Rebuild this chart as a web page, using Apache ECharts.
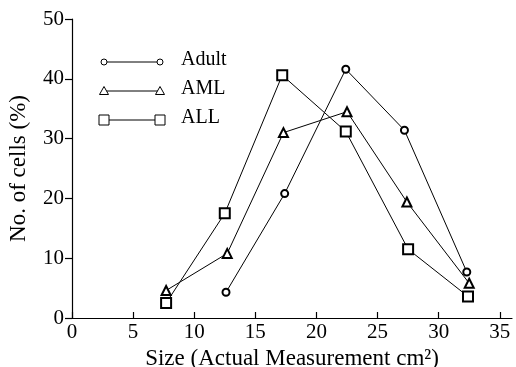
<!DOCTYPE html>
<html><head><meta charset="utf-8">
<script src="https://cdn.jsdelivr.net/npm/echarts@6/dist/echarts.min.js"></script>
<style>html,body{margin:0;padding:0;background:#fff}#c{width:516px;height:367px}</style>
</head><body><div id="c"></div>
<script>
const xTicks = [0, 5, 10, 15, 20, 25, 30, 35];
const yTicks = [0, 10, 20, 30, 40, 50];
const adultX = [12.6, 17.4, 22.4, 27.2, 32.3];
const adultY = [4.3, 20.8, 41.6, 31.4, 7.7];
const amlX = [7.7, 12.7, 17.3, 22.5, 27.4, 32.5];
const amlY = [4.6, 10.8, 31.0, 34.5, 19.4, 5.8];
const allX = [7.7, 12.5, 17.2, 22.4, 27.5, 32.4];
const allY = [2.5, 17.5, 40.6, 31.2, 11.5, 3.6];
const seriesNames = ['Adult', 'AML', 'ALL'];

const pair = (xs, ys) => xs.map((x, i) => [x, ys[i]]);
const FONT = '"Liberation Serif", "DejaVu Serif", serif';
const chart = echarts.init(document.getElementById('c'), null, {renderer: 'canvas'});

function mkSeries(name, data, symbol, size) {
  return {
    name, type: 'line', data, symbol, symbolSize: size,
    showSymbol: true, animation: false,
    lineStyle: {color: '#000', width: 1},
    itemStyle: {color: '#000', borderColor: '#000', borderWidth: 1},
    emphasis: {disabled: true},
    z: 3
  };
}

const legendRows = [
  {y: 62, shape: 'circle'},
  {y: 91, shape: 'triangle'},
  {y: 120, shape: 'rect'}
];
const lg = [];
legendRows.forEach((r, i) => {
  lg.push({type: 'line', shape: {x1: 104, y1: r.y, x2: 160, y2: r.y}, style: {stroke: '#000', lineWidth: 1}, z: 10});
  [104, 160].forEach(cx => {
    if (r.shape === 'circle') lg.push({type: 'circle', shape: {cx, cy: r.y, r: 3}, style: {fill: '#fff', stroke: '#000', lineWidth: 1}, z: 11});
    else if (r.shape === 'triangle') lg.push({type: 'polygon', shape: {points: [[cx, r.y - 4.5], [cx + 4.5, r.y + 3.5], [cx - 4.5, r.y + 3.5]]}, style: {fill: '#fff', stroke: '#000', lineWidth: 1}, z: 11});
    else lg.push({type: 'rect', shape: {x: cx - 5, y: r.y - 5, width: 10, height: 10}, style: {fill: '#fff', stroke: '#000', lineWidth: 1}, z: 11});
  });
  lg.push({type: 'text', left: 181, top: r.y - 12, style: {text: seriesNames[i], font: '20px ' + FONT, fill: '#000'}, z: 11});
});

chart.setOption({
  animation: false,
  backgroundColor: '#fff',
  grid: {left: 72, right: 4, top: 19, bottom: 49, containLabel: false, outerBoundsMode: 'none'},
  xAxis: {
    type: 'value', min: 0, max: 36, interval: 5,
    name: 'Size (Actual Measurement cm²)', nameLocation: 'middle', nameGap: 27,
    nameTextStyle: {fontFamily: FONT, fontSize: 23, color: '#000'},
    axisLine: {onZero: false, lineStyle: {color: '#000', width: 1.2}},
    axisTick: {inside: true, length: 6, lineStyle: {color: '#000', width: 1.2}, customValues: xTicks},
    axisLabel: {fontFamily: FONT, fontSize: 21, color: '#000', margin: 4, customValues: xTicks},
    splitLine: {show: false}
  },
  yAxis: {
    type: 'value', min: 0, max: 50, interval: 10,
    name: 'No. of cells (%)', nameLocation: 'middle', nameGap: 42,
    nameTextStyle: {fontFamily: FONT, fontSize: 23, color: '#000'},
    axisLine: {show: true, lineStyle: {color: '#000', width: 1.2}},
    axisTick: {show: true, inside: false, length: 7, lineStyle: {color: '#000', width: 1.2}, customValues: yTicks},
    axisLabel: {fontFamily: FONT, fontSize: 21, color: '#000', margin: 8, customValues: yTicks},
    splitLine: {show: false}
  },
  series: [
    mkSeries('Adult', pair(adultX, adultY), 'emptyCircle', 7),
    mkSeries('AML', pair(amlX, amlY), 'emptyTriangle', 9),
    mkSeries('ALL', pair(allX, allY), 'emptyRect', 10)
  ],
  graphic: lg
});
</script></body></html>
